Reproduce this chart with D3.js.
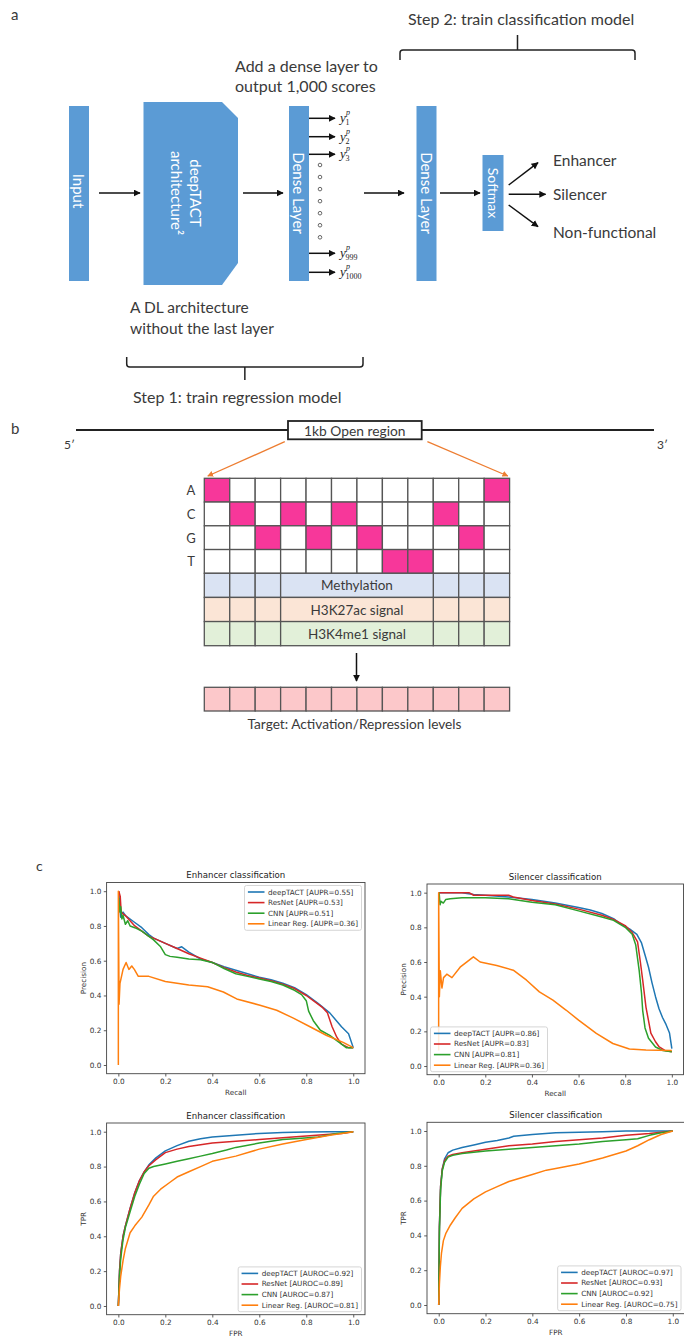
<!DOCTYPE html>
<html>
<head>
<meta charset="utf-8">
<script src="https://cdn.jsdelivr.net/npm/d3@7"></script>
<style>
body { margin: 0; background: #fff; }
</style>
</head>
<body>
<div id="fig"></div>
<script>
// ---- data ----
const modelNames = ["deepTACT", "ResNet", "CNN", "Linear Reg."];
const enhAupr = [0.55, 0.53, 0.51, 0.36];
const silAupr = [0.86, 0.83, 0.81, 0.36];
const enhAuroc = [0.92, 0.89, 0.87, 0.81];
const silAuroc = [0.97, 0.93, 0.92, 0.75];
const axisTicks = [0, 0.2, 0.4, 0.6, 0.8, 1.0];

// precision-recall curves, [recall, precision]
const enhPrDeep = [[0.002,1.0],[0.005,0.93],[0.01,0.85],[0.015,0.87],[0.02,0.88],[0.03,0.86],[0.05,0.84],[0.07,0.82],[0.1,0.79],[0.13,0.75],[0.15,0.73],[0.2,0.70],[0.25,0.67],[0.27,0.68],[0.3,0.65],[0.35,0.61],[0.4,0.59],[0.45,0.565],[0.5,0.545],[0.55,0.525],[0.6,0.505],[0.65,0.49],[0.7,0.47],[0.75,0.445],[0.8,0.405],[0.85,0.355],[0.9,0.30],[0.95,0.22],[0.98,0.18],[1.0,0.10]];
const enhPrRes = [[0.002,1.0],[0.008,0.97],[0.012,0.88],[0.02,0.87],[0.03,0.86],[0.05,0.83],[0.07,0.80],[0.1,0.77],[0.13,0.74],[0.15,0.73],[0.2,0.70],[0.25,0.67],[0.3,0.64],[0.35,0.615],[0.4,0.59],[0.45,0.56],[0.5,0.535],[0.55,0.515],[0.6,0.50],[0.65,0.485],[0.7,0.465],[0.75,0.44],[0.8,0.40],[0.84,0.36],[0.87,0.33],[0.89,0.30],[0.91,0.22],[0.93,0.16],[0.95,0.12],[0.98,0.10],[1.0,0.10]];
const enhPrCnn = [[0.002,0.96],[0.006,0.88],[0.01,0.91],[0.015,0.84],[0.02,0.86],[0.03,0.81],[0.04,0.83],[0.05,0.80],[0.07,0.79],[0.1,0.77],[0.13,0.74],[0.15,0.72],[0.18,0.68],[0.2,0.635],[0.22,0.625],[0.25,0.62],[0.3,0.61],[0.35,0.605],[0.4,0.59],[0.45,0.555],[0.5,0.525],[0.55,0.51],[0.6,0.495],[0.65,0.48],[0.7,0.46],[0.75,0.43],[0.78,0.405],[0.8,0.37],[0.81,0.31],[0.83,0.255],[0.86,0.2],[0.9,0.17],[0.94,0.13],[0.97,0.10],[1.0,0.10]];
const enhPrLin = [[0,0],[0,1.0],[0.003,0.35],[0.007,0.47],[0.02,0.55],[0.033,0.59],[0.045,0.55],[0.057,0.57],[0.068,0.55],[0.085,0.51],[0.13,0.51],[0.2,0.48],[0.3,0.46],[0.38,0.45],[0.447,0.42],[0.504,0.38],[0.603,0.344],[0.674,0.315],[0.745,0.27],[0.816,0.22],[0.887,0.17],[0.957,0.13],[1.0,0.10]];

const silPrDeep = [[0.002,1.0],[0.1,1.0],[0.15,0.99],[0.2,0.985],[0.3,0.975],[0.4,0.96],[0.5,0.94],[0.6,0.915],[0.65,0.9],[0.7,0.88],[0.75,0.85],[0.78,0.82],[0.82,0.79],[0.85,0.76],[0.87,0.71],[0.885,0.64],[0.9,0.57],[0.915,0.48],[0.93,0.40],[0.945,0.33],[0.96,0.28],[0.975,0.24],[0.99,0.19],[1.0,0.10]];
const silPrRes = [[0.002,1.0],[0.13,1.0],[0.15,0.985],[0.3,0.985],[0.32,0.975],[0.4,0.955],[0.5,0.935],[0.6,0.905],[0.7,0.87],[0.75,0.845],[0.8,0.81],[0.83,0.77],[0.853,0.716],[0.865,0.60],[0.875,0.495],[0.889,0.34],[0.91,0.19],[0.93,0.14],[0.946,0.11],[0.97,0.09],[1.0,0.083]];
const silPrCnn = [[0.002,1.0],[0.006,0.93],[0.01,0.95],[0.02,0.94],[0.03,0.96],[0.05,0.965],[0.1,0.97],[0.2,0.97],[0.3,0.965],[0.4,0.945],[0.5,0.93],[0.6,0.895],[0.7,0.86],[0.75,0.84],[0.8,0.80],[0.83,0.76],[0.845,0.70],[0.86,0.55],[0.87,0.42],[0.875,0.32],[0.885,0.22],[0.9,0.16],[0.93,0.11],[0.96,0.09],[1.0,0.083]];
const silPrLin = [[0,0.09],[0,1.0],[0.003,0.40],[0.007,0.55],[0.014,0.45],[0.021,0.51],[0.035,0.53],[0.057,0.51],[0.092,0.57],[0.149,0.63],[0.178,0.60],[0.249,0.58],[0.32,0.553],[0.377,0.495],[0.432,0.428],[0.49,0.38],[0.546,0.323],[0.6,0.265],[0.676,0.188],[0.747,0.13],[0.818,0.098],[0.889,0.092],[1.0,0.09]];

// ROC curves, [FPR, TPR]
const enhRocDeep = [[0,0],[0.005,0.2],[0.01,0.3],[0.02,0.4],[0.03,0.46],[0.05,0.56],[0.07,0.65],[0.09,0.72],[0.11,0.77],[0.13,0.81],[0.16,0.85],[0.2,0.89],[0.25,0.92],[0.3,0.945],[0.35,0.96],[0.4,0.97],[0.5,0.98],[0.6,0.99],[0.7,0.995],[0.8,0.998],[0.9,1.0],[1.0,1.0]];
const enhRocRes = [[0,0],[0.005,0.2],[0.01,0.3],[0.02,0.4],[0.03,0.46],[0.05,0.56],[0.07,0.65],[0.09,0.72],[0.11,0.77],[0.13,0.805],[0.16,0.84],[0.2,0.88],[0.25,0.9],[0.3,0.915],[0.4,0.935],[0.5,0.945],[0.6,0.955],[0.7,0.965],[0.8,0.975],[0.9,0.985],[0.95,0.99],[1.0,1.0]];
const enhRocCnn = [[0,0],[0.005,0.17],[0.01,0.27],[0.02,0.38],[0.03,0.45],[0.05,0.54],[0.07,0.63],[0.09,0.70],[0.11,0.76],[0.13,0.79],[0.15,0.80],[0.2,0.815],[0.25,0.83],[0.3,0.845],[0.35,0.86],[0.4,0.875],[0.46,0.895],[0.5,0.91],[0.6,0.935],[0.7,0.955],[0.75,0.96],[0.85,0.97],[0.93,0.99],[1.0,1.0]];
const enhRocLin = [[0,0],[0.005,0.1],[0.01,0.17],[0.02,0.26],[0.03,0.33],[0.05,0.42],[0.07,0.46],[0.1,0.51],[0.13,0.58],[0.15,0.63],[0.18,0.67],[0.22,0.71],[0.25,0.74],[0.3,0.77],[0.35,0.8],[0.4,0.83],[0.5,0.86],[0.6,0.9],[0.7,0.93],[0.8,0.955],[0.9,0.98],[1.0,1.0]];

const silRocDeep = [[0,0],[0.003,0.45],[0.008,0.68],[0.015,0.78],[0.025,0.84],[0.04,0.875],[0.06,0.89],[0.1,0.905],[0.15,0.92],[0.2,0.935],[0.25,0.945],[0.3,0.96],[0.32,0.97],[0.4,0.98],[0.5,0.99],[0.6,0.993],[0.7,0.996],[0.8,1.0],[1.0,1.0]];
const silRocRes = [[0,0],[0.003,0.45],[0.008,0.68],[0.015,0.78],[0.025,0.83],[0.04,0.855],[0.06,0.865],[0.1,0.875],[0.2,0.895],[0.3,0.915],[0.4,0.925],[0.5,0.94],[0.6,0.95],[0.7,0.96],[0.8,0.975],[0.9,0.985],[1.0,1.0]];
const silRocCnn = [[0,0],[0.003,0.42],[0.008,0.66],[0.015,0.77],[0.025,0.82],[0.04,0.85],[0.06,0.86],[0.1,0.87],[0.2,0.885],[0.3,0.895],[0.4,0.905],[0.5,0.915],[0.6,0.925],[0.7,0.94],[0.8,0.95],[0.85,0.955],[0.9,0.975],[0.95,0.99],[1.0,1.0]];
const silRocLin = [[0,0],[0.003,0.12],[0.007,0.22],[0.012,0.3],[0.02,0.37],[0.03,0.41],[0.05,0.46],[0.07,0.5],[0.1,0.555],[0.15,0.61],[0.2,0.65],[0.25,0.68],[0.3,0.71],[0.35,0.73],[0.4,0.75],[0.46,0.775],[0.5,0.785],[0.6,0.81],[0.7,0.845],[0.75,0.865],[0.8,0.885],[0.85,0.915],[0.9,0.95],[0.95,0.98],[1.0,1.0]];

// panel b
const bases = ["A", "C", "G", "T"];
const sequence = ["A", "C", "G", "C", "G", "C", "G", "T", "T", "C", "G", "A"];
const tracks = ["Methylation", "H3K27ac signal", "H3K4me1 signal"];
// panel a
const outputIdx = ["1", "2", "3", "999", "1000"];
const classes = ["Enhancer", "Silencer", "Non-functional"];

// ---- drawing ----
const W = 684, H = 1337;
const BLUE = "#5b9bd5";
const TXT = "#3a3a3a";
const SANS = "Lato, 'Open Sans', sans-serif";
const MPL = "'DejaVu Sans', sans-serif";
const lineColors = ["#1f77b4", "#d62728", "#2ca02c", "#ff7f0e"];

const svg = d3.select("#fig").append("svg")
    .attr("width", W)
    .attr("height", H)
    .style("background", "#fff");

const defs = svg.append("defs");
defs.append("marker")
    .attr("id", "arr")
    .attr("viewBox", "0 0 10 10")
    .attr("refX", 9).attr("refY", 5)
    .attr("markerWidth", 7).attr("markerHeight", 7)
    .attr("markerUnits", "userSpaceOnUse")
    .attr("orient", "auto")
  .append("path").attr("d", "M0,0 L10,5 L0,10 z").attr("fill", "#111");
defs.append("marker")
    .attr("id", "arrO")
    .attr("viewBox", "0 0 10 10")
    .attr("refX", 9).attr("refY", 5)
    .attr("markerWidth", 6).attr("markerHeight", 6)
    .attr("markerUnits", "userSpaceOnUse")
    .attr("orient", "auto")
  .append("path").attr("d", "M0,0 L10,5 L0,10 z").attr("fill", "#ed7d31");

function arrow(x1, y1, x2, y2) {
  svg.append("line")
      .attr("x1", x1).attr("y1", y1).attr("x2", x2).attr("y2", y2)
      .attr("stroke", "#111").attr("stroke-width", 1.5)
      .attr("marker-end", "url(#arr)");
}

function label(x, y, s, size, anchor) {
  return svg.append("text")
      .attr("x", x).attr("y", y)
      .attr("font-family", SANS)
      .attr("font-size", size)
      .attr("fill", TXT)
      .attr("text-anchor", anchor || "start")
      .attr("dominant-baseline", "central")
      .text(s);
}

function vtext(cx, cy, s, size) {
  svg.append("text")
      .attr("transform", `translate(${cx},${cy}) rotate(90)`)
      .attr("font-family", SANS)
      .attr("font-size", size)
      .attr("fill", "#fff")
      .attr("text-anchor", "middle")
      .attr("dominant-baseline", "central")
      .text(s);
}

function brace(x1, x2, yEnd, yLine, yTip) {
  const xm = (x1 + x2) / 2, r = 3 * Math.sign(yLine - yEnd);
  svg.append("path")
      .attr("d", `M${x1},${yEnd} L${x1},${yLine - r} Q${x1},${yLine} ${x1 + 3},${yLine} L${x2 - 3},${yLine} Q${x2},${yLine} ${x2},${yLine - r} L${x2},${yEnd} M${xm},${yLine} L${xm},${yTip}`)
      .attr("fill", "none").attr("stroke", "#222").attr("stroke-width", 1.5);
}

// ===== panel a =====
label(11, 14, "a", 15);
label(408, 18, "Step 2: train classification model", 16);
brace(400, 635, 60, 50, 35);
label(235, 65, "Add a dense layer to", 16);
label(235, 85, "output 1,000 scores", 16);

svg.append("rect").attr("x", 69).attr("y", 106).attr("width", 20).attr("height", 175).attr("fill", BLUE);
vtext(79, 191, "Input", 15);
arrow(99, 193, 140, 193);

svg.append("path")
    .attr("d", "M143.5,102 L222,102 L238,118 L238,263 L222,285 L143.5,285 Z")
    .attr("fill", BLUE);
vtext(196, 193, "deepTACT", 15);
vtext(177, 193, "architecture\u00B2", 15);
arrow(243, 193, 283, 193);

svg.append("rect").attr("x", 289).attr("y", 106).attr("width", 20).attr("height", 175).attr("fill", BLUE);
vtext(299, 193, "Dense Layer", 15);

const outY = [118.3, 136.7, 154.3, 253.3, 272.3];
outputIdx.forEach((s, i) => {
  arrow(309, outY[i], 335, outY[i]);
  svg.append("text").attr("x", 340).attr("y", outY[i] + 4)
      .attr("font-family", "'Liberation Serif', serif").attr("font-style", "italic")
      .attr("font-size", 13).attr("fill", "#222").text("y");
  svg.append("text").attr("x", 346).attr("y", outY[i] - 3)
      .attr("font-family", "'Liberation Serif', serif").attr("font-style", "italic")
      .attr("font-size", 8).attr("fill", "#222").text("p");
  svg.append("text").attr("x", 345.5).attr("y", outY[i] + 7)
      .attr("font-family", "'Liberation Serif', serif")
      .attr("font-size", 8).attr("fill", "#222").text(s);
});
const dotY = d3.scaleLinear().domain([0, 6]).range([165, 237.3]);
svg.selectAll("circle.dot").data(d3.range(7)).enter().append("circle")
    .attr("class", "dot")
    .attr("cx", 320).attr("cy", d => dotY(d)).attr("r", 1.8)
    .attr("fill", "#fff").attr("stroke", "#666").attr("stroke-width", 1);

arrow(364, 193, 404, 193);
svg.append("rect").attr("x", 416.5).attr("y", 106).attr("width", 20).attr("height", 175).attr("fill", BLUE);
vtext(426.5, 193, "Dense Layer", 15);
arrow(440, 193, 480, 193);
svg.append("rect").attr("x", 482.5).attr("y", 155).attr("width", 21).attr("height", 76).attr("fill", BLUE);
vtext(493, 193, "Softmax", 14);

const clsY = [160, 194, 232];
const tipY = [162.7, 194.3, 226.7];
const startY = [185, 194.3, 205];
classes.forEach((c, i) => {
  arrow(508.7, startY[i], i === 1 ? 545.6 : 538, tipY[i]);
  label(553, clsY[i], c, 15.5);
});

label(130, 307, "A DL architecture", 15.5);
label(130, 327.5, "without the last layer", 15.5);
brace(126.7, 363, 357, 367, 380);
label(133, 396, "Step 1: train regression model", 16);

// ===== panel b =====
label(11, 428, "b", 15);
svg.append("line").attr("x1", 76).attr("x2", 654).attr("y1", 430).attr("y2", 430)
    .attr("stroke", "#222").attr("stroke-width", 2);
svg.append("rect").attr("x", 288).attr("y", 421).attr("width", 133.7).attr("height", 18.3)
    .attr("fill", "#fff").attr("stroke", "#222").attr("stroke-width", 1.8);
label(354.8, 430.5, "1kb Open region", 13.8, "middle");
label(64, 444, "5\u2032", 12);
label(657, 444, "3\u2032", 12);

const xCol = d3.scaleBand().domain(d3.range(sequence.length)).range([204.3, 509.6]);
const yBase = d3.scaleBand().domain(bases).range([478.3, 573.3]);
const yTrack = d3.scaleBand().domain(tracks).range([573.3, 645.7]);
const trackFill = ["#dae3f3", "#fbe5d6", "#e2f0d9"];

svg.append("line").attr("x1", 284.8).attr("y1", 441.7).attr("x2", 207.8).attr("y2", 476)
    .attr("stroke", "#ed7d31").attr("stroke-width", 1.3).attr("marker-end", "url(#arrO)");
svg.append("line").attr("x1", 427.4).attr("y1", 441.7).attr("x2", 507.8).attr("y2", 476)
    .attr("stroke", "#ed7d31").attr("stroke-width", 1.3).attr("marker-end", "url(#arrO)");

const cells = [];
bases.forEach(b => sequence.forEach((s, i) => cells.push({b, i, on: s === b})));
svg.selectAll("rect.cell").data(cells).enter().append("rect")
    .attr("class", "cell")
    .attr("x", d => xCol(d.i)).attr("y", d => yBase(d.b))
    .attr("width", xCol.bandwidth()).attr("height", yBase.bandwidth())
    .attr("fill", d => d.on ? "#f7379a" : "#fff")
    .attr("stroke", "#555").attr("stroke-width", 1.3);
bases.forEach(b => label(191, yBase(b) + yBase.bandwidth() / 2, b, 13, "middle"));

const sideCols = [0, 1, 2, 9, 10, 11];
tracks.forEach((t, k) => {
  sideCols.forEach(i => {
    svg.append("rect")
        .attr("x", xCol(i)).attr("y", yTrack(t))
        .attr("width", xCol.bandwidth()).attr("height", yTrack.bandwidth())
        .attr("fill", trackFill[k]).attr("stroke", "#555").attr("stroke-width", 1.3);
  });
  svg.append("rect")
      .attr("x", xCol(3)).attr("y", yTrack(t))
      .attr("width", xCol(9) - xCol(3)).attr("height", yTrack.bandwidth())
      .attr("fill", trackFill[k]).attr("stroke", "#555").attr("stroke-width", 1.3);
  label((xCol(3) + xCol(9)) / 2, yTrack(t) + yTrack.bandwidth() / 2, t, 13.5, "middle");
});

arrow(356.5, 653, 356.5, 681);
svg.selectAll("rect.target").data(sequence).enter().append("rect")
    .attr("class", "target")
    .attr("x", (d, i) => xCol(i)).attr("y", 687.3)
    .attr("width", xCol.bandwidth()).attr("height", 23.7)
    .attr("fill", "#fcc8ca").attr("stroke", "#555").attr("stroke-width", 1.3);
label(354.5, 723.5, "Target: Activation/Repression levels", 13.7, "middle");

// ===== panel c =====
label(36, 865, "c", 14);

const plots = [
  {title: "Enhancer classification", xl: "Recall", yl: "Precision", metric: "AUPR",
   curves: [enhPrDeep, enhPrRes, enhPrCnn, enhPrLin], scores: enhAupr,
   frame: [106.6, 365, 882.5, 1073.7], loc: "ur"},
  {title: "Silencer classification", xl: "Recall", yl: "Precision", metric: "AUPR",
   curves: [silPrDeep, silPrRes, silPrCnn, silPrLin], scores: silAupr,
   frame: [427, 683.5, 884, 1074.7], loc: "ll"},
  {title: "Enhancer classification", xl: "FPR", yl: "TPR", metric: "AUROC",
   curves: [enhRocDeep, enhRocRes, enhRocCnn, enhRocLin], scores: enhAuroc,
   frame: [106.6, 365, 1123, 1314.7], loc: "lr"},
  {title: "Silencer classification", xl: "FPR", yl: "TPR", metric: "AUROC",
   curves: [silRocDeep, silRocRes, silRocCnn, silRocLin], scores: silAuroc,
   frame: [427, 684.5, 1122.3, 1313.7], loc: "lr"}
];

plots.forEach((p, pi) => {
  const [x0, x1, y0, y1] = p.frame;
  const x = d3.scaleLinear().domain([-0.05, 1.05]).range([x0, x1]);
  const y = d3.scaleLinear().domain([-0.05, 1.05]).range([y1, y0]);
  const g = svg.append("g");

  g.append("clipPath").attr("id", "clip" + pi)
    .append("rect").attr("x", x0).attr("y", y0).attr("width", x1 - x0).attr("height", y1 - y0);

  const xa = g.append("g").attr("transform", `translate(0,${y1})`)
      .call(d3.axisBottom(x).tickValues(axisTicks).tickFormat(d3.format(".1f")).tickSize(2.8).tickPadding(2.5));
  const ya = g.append("g").attr("transform", `translate(${x0},0)`)
      .call(d3.axisLeft(y).tickValues(axisTicks).tickFormat(d3.format(".1f")).tickSize(2.8).tickPadding(2.5));
  [xa, ya].forEach(a => {
    a.select(".domain").remove();
    a.selectAll("line").attr("stroke", "#333").attr("stroke-width", 0.8);
    a.selectAll("text").attr("font-family", MPL).attr("font-size", 7.3).attr("fill", "#333");
  });

  const line = d3.line().x(d => x(d[0])).y(d => y(d[1]));
  g.append("g").attr("clip-path", `url(#clip${pi})`)
    .selectAll("path").data(p.curves).enter().append("path")
      .attr("d", line)
      .attr("fill", "none")
      .attr("stroke", (d, i) => lineColors[i])
      .attr("stroke-width", 1.5)
      .attr("stroke-linejoin", "round");

  g.append("rect").attr("x", x0).attr("y", y0).attr("width", x1 - x0).attr("height", y1 - y0)
      .attr("fill", "none").attr("stroke", "#444").attr("stroke-width", 0.9);

  g.append("text").attr("x", (x0 + x1) / 2).attr("y", y0 - 4.5)
      .attr("text-anchor", "middle").attr("font-family", MPL).attr("font-size", 8.6)
      .attr("fill", "#222").text(p.title);
  g.append("text").attr("x", (x0 + x1) / 2).attr("y", y1 + 21)
      .attr("text-anchor", "middle").attr("font-family", MPL).attr("font-size", 7.2)
      .attr("fill", "#333").text(p.xl);
  g.append("text").attr("transform", `translate(${x0 - 21},${(y0 + y1) / 2}) rotate(-90)`)
      .attr("text-anchor", "middle").attr("font-family", MPL).attr("font-size", 7.2)
      .attr("fill", "#333").text(p.yl);

  // legend
  const lg = g.append("g");
  const box = lg.append("rect").attr("fill", "#fff").attr("fill-opacity", 0.85)
      .attr("stroke", "#ccc").attr("stroke-width", 0.8).attr("rx", 2);
  const rowH = 10.6;
  const texts = [];
  modelNames.forEach((m, i) => {
    lg.append("line").attr("x1", 3.4).attr("x2", 20)
        .attr("y1", 6.5 + i * rowH).attr("y2", 6.5 + i * rowH)
        .attr("stroke", lineColors[i]).attr("stroke-width", 1.6);
    texts.push(lg.append("text").attr("x", 23.5).attr("y", 6.5 + i * rowH)
        .attr("dominant-baseline", "central")
        .attr("font-family", MPL).attr("font-size", 7.2).attr("fill", "#333")
        .text(`${m} [${p.metric}=${p.scores[i].toFixed(2)}]`));
  });
  const tw = d3.max(texts, t => t.node().getComputedTextLength());
  const bw = 23.5 + tw + 3.5, bh = 6.5 + 3 * rowH + 6.5;
  box.attr("width", bw).attr("height", bh);
  const lx = p.loc === "ll" ? x0 + 3.5 : x1 - 3.5 - bw;
  const ly = p.loc === "ur" ? y0 + 3 : y1 - 3 - bh;
  lg.attr("transform", `translate(${lx},${ly})`);
});
</script>
</body>
</html>
